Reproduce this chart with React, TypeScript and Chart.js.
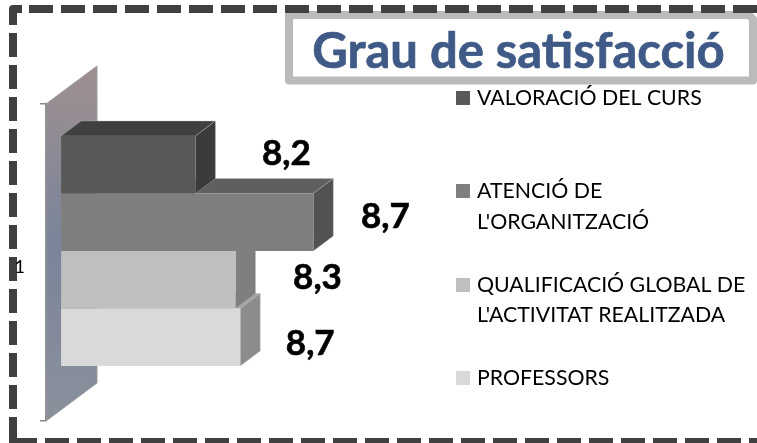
import React, { useEffect, useRef } from "react";
import { Chart, registerables } from "chart.js";

Chart.register(...registerables);

const categories = ["1"];
const seriesNames = [
  "VALORACIÓ DEL CURS",
  "ATENCIÓ DE L'ORGANITZACIÓ",
  "QUALIFICACIÓ GLOBAL DE L'ACTIVITAT REALITZADA",
  "PROFESSORS",
];
// Bar lengths (the printed labels do not follow them exactly).
const barValues = [8.2, 8.7, 8.37, 8.39];
const valueLabels = ["8,2", "8,7", "8,3", "8,7"];
const frontColors = ["#595959", "#7f7f7f", "#bfbfbf", "#d9d9d9"];
const topColors = ["#404040", "#5f5f5f", "#8f8f8f", "#a3a3a3"];
const sideColors = ["#3b3b3b", "#525252", "#7f7f7f", "#8c8c8c"];
const legendLines = [
  ["VALORACIÓ DEL CURS"],
  ["ATENCIÓ DE", "L'ORGANITZACIÓ"],
  ["QUALIFICACIÓ GLOBAL DE", "L'ACTIVITAT REALITZADA"],
  ["PROFESSORS"],
];
const titleText = "Grau de satisfacció";

const AXIS_MIN = 7.566;
const AXIS_MAX = 9;
const BAR_BASE = 7.63;
const DEPTH_X = 20;
const DEPTH_Y = 15;
const BAR_SHIFT_Y = -11.5;
const LABEL_OFFSET_X = [91, 72, 82, 70];
const LABEL_OFFSET_Y = [-23, -17, -13.5, -5.5];
const LEGEND_Y = [[98], [191, 222], [285, 315], [378]];
const FONT = "Lato, Carlito, Calibri, sans-serif";

const scenePlugin = {
  id: "scene",
  beforeDraw(chart: any) {
    const c = chart.ctx;
    c.save();
    c.fillStyle = "#ffffff";
    c.fillRect(0, 0, chart.width, chart.height);
    // title box
    c.strokeStyle = "#bbbbbb";
    c.lineWidth = 8;
    c.lineJoin = "round";
    c.beginPath();
    c.moveTo(289, 15);
    c.lineTo(749, 15);
    c.lineTo(753, 19);
    c.lineTo(753, 80.5);
    c.lineTo(289, 80.5);
    c.closePath();
    c.stroke();
    // dashed frame
    c.strokeStyle = "#404040";
    c.lineWidth = 8;
    c.beginPath();
    c.moveTo(13, 25);
    c.lineTo(13, 9);
    c.lineTo(22, 9);
    c.moveTo(13, 417);
    c.lineTo(13, 442);
    c.lineTo(37, 442);
    c.stroke();
    c.setLineDash([24, 8]);
    c.beginPath();
    c.moveTo(29, 9);
    c.lineTo(757, 9);
    c.moveTo(13, 33);
    c.lineTo(13, 410);
    c.moveTo(45, 442);
    c.lineTo(757, 442);
    c.stroke();
    c.setLineDash([]);
    // title
    c.fillStyle = "#3f5a87";
    c.strokeStyle = "#3f5a87";
    c.lineWidth = 0.7;
    c.font = `bold 49px ${FONT}`;
    c.textAlign = "center";
    c.textBaseline = "alphabetic";
    c.fillText(titleText, 518.5, 68);
    c.strokeText(titleText, 518.5, 68);
    // legend
    c.font = `21.3px ${FONT}`;
    c.textBaseline = "middle";
    c.textAlign = "left";
    legendLines.forEach((lines, i) => {
      c.fillStyle = frontColors[i];
      c.fillRect(456, LEGEND_Y[i][0] - 7, 14, 14);
      c.fillStyle = "#000000";
      lines.forEach((t, j) => c.fillText(t, 477, LEGEND_Y[i][j]));
    });
    c.restore();
  },
  beforeDatasetsDraw(chart: any) {
    const c = chart.ctx;
    const { left, top, bottom } = chart.chartArea;
    const dx = 51;
    const dy = 38;
    const g = c.createLinearGradient(left + dx, top - dy, left, bottom);
    g.addColorStop(0, "#a09090");
    g.addColorStop(0.5, "#7a849a");
    g.addColorStop(1, "#8a909b");
    c.save();
    c.fillStyle = g;
    c.strokeStyle = "#9a9a9a";
    c.lineWidth = 1;
    c.beginPath();
    c.moveTo(left, top);
    c.lineTo(left + dx, top - dy);
    c.lineTo(left + dx, bottom - dy);
    c.lineTo(left, bottom);
    c.closePath();
    c.fill();
    c.stroke();
    c.restore();
  },
  beforeDatasetDraw(chart: any, args: any) {
    const c = chart.ctx;
    const i = args.index;
    const el = args.meta.data[0];
    c.save();
    c.translate(0, BAR_SHIFT_Y);
    const t = el.y - el.height / 2;
    const b = el.y + el.height / 2;
    const l = el.base;
    const r = el.x;
    c.lineWidth = 1;
    c.strokeStyle = "rgba(190,190,190,0.35)";
    c.fillStyle = topColors[i];
    c.beginPath();
    c.moveTo(l, t);
    c.lineTo(l + DEPTH_X, t - DEPTH_Y);
    c.lineTo(r + DEPTH_X, t - DEPTH_Y);
    c.lineTo(r, t);
    c.closePath();
    c.fill();
    c.stroke();
    c.fillStyle = sideColors[i];
    c.beginPath();
    c.moveTo(r, t);
    c.lineTo(r + DEPTH_X, t - DEPTH_Y);
    c.lineTo(r + DEPTH_X, b - DEPTH_Y);
    c.lineTo(r, b);
    c.closePath();
    c.fill();
    c.stroke();
  },
  afterDatasetDraw(chart: any) {
    chart.ctx.restore();
  },
  afterDatasetsDraw(chart: any) {
    const c = chart.ctx;
    c.save();
    c.fillStyle = "#000000";
    c.strokeStyle = "#000000";
    c.lineWidth = 0.6;
    c.font = `bold 35px ${FONT}`;
    c.textAlign = "center";
    c.textBaseline = "middle";
    valueLabels.forEach((label, i) => {
      const el = chart.getDatasetMeta(i).data[0];
      const x = el.x + LABEL_OFFSET_X[i];
      const y = el.y + LABEL_OFFSET_Y[i];
      c.fillText(label, x, y);
      c.strokeText(label, x, y);
    });
    c.restore();
  },
};

export default function App() {
  const ref = useRef<HTMLCanvasElement>(null);
  useEffect(() => {
    document.body.style.margin = "0";
    const chart = new Chart(ref.current!, {
      type: "bar",
      data: {
        labels: categories,
        datasets: seriesNames.map((name, i) => ({
          label: name,
          data: [barValues[i]],
          base: BAR_BASE,
          backgroundColor: frontColors[i],
          borderWidth: 0,
          categoryPercentage: 0.7256,
          barPercentage: 1,
        })),
      },
      options: {
        indexAxis: "y",
        animation: false,
        responsive: false,
        layout: { padding: { left: 0, top: 104, bottom: 22, right: 373 } },
        plugins: { legend: { display: false }, title: { display: false }, tooltip: { enabled: false } },
        scales: {
          x: { display: false, min: AXIS_MIN, max: AXIS_MAX },
          y: {
            afterFit(scale: any) {
              scale.width = 46;
              scale.paddingTop = 0;
              scale.paddingBottom = 0;
            },
            border: { color: "#868686", width: 1.5 },
            grid: { color: "#868686", lineWidth: 1.5, drawOnChartArea: false, tickLength: 6 },
            ticks: {
              color: "#000000",
              padding: 15,
              labelOffset: 5,
              font: { family: FONT, size: 18 },
            },
          },
        },
      },
      plugins: [scenePlugin],
    } as any);
    return () => chart.destroy();
  }, []);
  return (
    <div style={{ position: "absolute", left: 0, top: 0, width: 757, height: 443 }}>
      <canvas ref={ref} width={757} height={443} style={{ display: "block" }} />
    </div>
  );
}
